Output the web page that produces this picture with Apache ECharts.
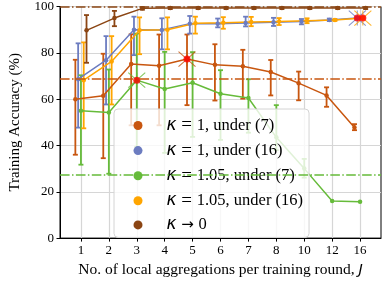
<!DOCTYPE html>
<html><head><meta charset="utf-8">
<script src="https://cdn.jsdelivr.net/npm/echarts@6/dist/echarts.min.js"></script>
<style>html,body{margin:0;padding:0;background:#fff}#c{width:382px;height:283px}</style>
</head><body><div id="c"></div>
<script>
// categories (J values)
const jLabels = ['1','2','3','4','5','6','7','8','10','12','16'];
const yTicks = [0,20,40,60,80,100];

// kappa = 1, under (7)
const k1u7 = [60.0, 61.5, 75.2, 74.4, 77.3, 74.8, 74.2, 71.7, 66.9, 61.6, 47.8];
const k1u7Low = [36.0, 34.5, 48.7, 48.7, 57.4, 59.4, 60.2, 61.6, 59.5, 56.7, 46.6];
const k1u7High = [77.0, 79.6, 88.0, 87.9, 87.9, 83.7, 81.3, 76.9, 71.9, 65.1, 49.2];

// kappa = 1, under (16)
const k1u16 = [68.6, 76.8, 90.0, 89.9, 92.6, 92.6, 92.9, 93.2, 93.5, 94.2, 95.0];
const k1u16Low = [47.7, 57.7, 79.0, 81.5, 88.3, 91.0, 91.4, 91.6, 92.3, 93.7, 94.7];
const k1u16High = [84.1, 87.2, 95.6, 94.9, 95.9, 94.8, 95.6, 95.1, 94.6, 94.8, 95.3];

// kappa = 1.05, under (7)
const k105u7 = [55.0, 54.2, 68.2, 64.4, 67.1, 62.3, 60.5, 43.5, 30.0, 16.0, 15.7];
const k105u7Low = [31.7, 27.8, 39.4, 36.8, 43.7, 42.4, 45.5, 38.0, 26.1, 16.0, 15.7];
const k105u7High = [70.3, 72.8, 88.3, 80.4, 80.3, 72.5, 68.6, 57.4, 34.2, 16.0, 15.7];

// kappa = 1.05, under (16)
const k105u16 = [68.2, 76.3, 89.7, 90.0, 92.8, 93.0, 93.3, 93.5, 93.9, 94.2, 95.0];
const k105u16Low = [47.4, 57.7, 79.4, 81.5, 88.3, 90.4, 91.5, 92.0, 92.8, 93.8, 94.8];
const k105u16High = [84.5, 87.2, 95.3, 95.3, 95.6, 95.4, 95.5, 95.0, 94.9, 94.6, 95.2];

// kappa -> 0
const k0 = [89.7, 95.0, 99.2, 99.3, 99.3, 99.3, 99.3, 99.3, 99.3, 99.3, 99.3];
const k0Low = [75.7, 91.5, 98.6, 98.9, 98.9, 98.9, 98.9, 98.9, 98.9, 98.9, 98.9];
const k0High = [96.3, 98.1, 99.7, 99.7, 99.7, 99.7, 99.7, 99.7, 99.7, 99.7, 99.7];

// reference (dash-dot) levels
const refK1u7 = 69.0;
const refK105u7 = 27.5;
const refK0 = 99.7;

// highlighted points (index into categories)
const hlK1u7 = 4, hlK105u7 = 2, hlK1u16 = 10, hlK105u16 = 10;

const names = ['κ = 1, under (7)','κ = 1, under (16)','κ = 1.05, under (7)','κ = 1.05, under (16)','κ → 0'];
const colors = ['#c8560f','#6c7cc0','#66bb3a','#ffa500','#8b4513'];
const offsets = [-0.2,-0.1,0,0.1,0.2];
const vals = [k1u7,k1u16,k105u7,k105u16,k0];
const lows = [k1u7Low,k1u16Low,k105u7Low,k105u16Low,k0Low];
const highs = [k1u7High,k1u16High,k105u7High,k105u16High,k0High];
const refs = [refK1u7,null,refK105u7,null,refK0];
const ticksX = jLabels.map((_,i)=>i+1);
const dashDot = [9.6,2.4,1.5,2.4];

const series = [];
for (let s=0;s<5;s++){
  const off = offsets[s], color = colors[s];
  series.push({
    type:'custom', name:names[s]+'_err', silent:true, z:3,
    data: lows[s].map((l,i)=>[i+1+off, l, highs[s][i]]).filter(d=>d[2]-d[1]>0.01),
    encode:{x:0,y:[1,2]},
    renderItem(params, api){
      const x=api.value(0), lo=api.value(1), hi=api.value(2);
      const p1=api.coord([x,lo]), p2=api.coord([x,hi]);
      const w=2.5, st={stroke:color,lineWidth:1.8};
      return {type:'group',children:[
        {type:'line',shape:{x1:p1[0],y1:p1[1],x2:p2[0],y2:p2[1]},style:st},
        {type:'line',shape:{x1:p1[0]-w,y1:p1[1],x2:p1[0]+w,y2:p1[1]},style:st},
        {type:'line',shape:{x1:p2[0]-w,y1:p2[1],x2:p2[0]+w,y2:p2[1]},style:st}
      ]};
    }
  });
  const line = {
    type:'line', name:names[s], z:3,
    data: vals[s].map((v,i)=>[i+1+off, v]),
    symbol:'circle', symbolSize:4.5, showSymbol:true,
    lineStyle:{color, width:1.5}, itemStyle:{color},
    emphasis:{disabled:true}, animation:false
  };
  if (refs[s]!==null){
    line.markLine = {silent:true, symbol:'none', label:{show:false},
      lineStyle:{color, width:1.5, type:dashDot},
      data:[{yAxis:refs[s]}]};
  }
  series.push(line);
}

const hl = [[0,hlK1u7],[2,hlK105u7],[1,hlK1u16],[3,hlK105u16]];
hl.forEach(([s,i])=>{
  series.push({type:'scatter', silent:true, z:4, symbol:'path://M0,0L16,14M16,0L0,14M8,0L8,14',
    symbolSize:[17,15], data:[[i+1+offsets[s], vals[s][i]]],
    itemStyle:{color:'none', borderColor:colors[s], borderWidth:1}});
});
series.push({type:'scatter', silent:true, z:5, symbol:'circle', symbolSize:7,
  data: hl.map(([s,i])=>[i+1+offsets[s], vals[s][i]]),
  itemStyle:{color:'#ff0000'}});

const chart = echarts.init(document.getElementById('c'), null, {renderer:'canvas'});
chart.setOption({
  animation:false,
  grid:{left:47, top:6, width:334, height:237, show:true, borderColor:'#000', borderWidth:1, backgroundColor:'transparent'},
  xAxis:{type:'value', min:0.25, max:11.75,
    axisLine:{show:true, onZero:false, lineStyle:{color:'#000', width:1}},
    axisTick:{show:true, customValues:ticksX, length:3.5, lineStyle:{color:'#000'}},
    axisLabel:{customValues:ticksX, formatter:v=>jLabels[Math.round(v)-1], color:'#000', fontFamily:'Liberation Serif', fontSize:13, margin:6},
    splitLine:{show:true, lineStyle:{color:'#d6d6d6', width:1.2}},
    name:'No. of local aggregations per training round, {j|J}', nameLocation:'middle', nameGap:23,
    nameTextStyle:{fontFamily:'Liberation Serif', fontSize:15.5, color:'#000',
      rich:{j:{fontFamily:'DejaVu Sans', fontStyle:'italic', fontSize:14.5, color:'#000'}}}
  },
  yAxis:{type:'value', min:0, max:100, interval:20,
    axisLine:{show:true, lineStyle:{color:'#000', width:1}},
    axisTick:{show:true, length:3.5, lineStyle:{color:'#000'}},
    axisLabel:{color:'#000', fontFamily:'Liberation Serif', fontSize:13, margin:6},
    splitLine:{show:true, lineStyle:{color:'#d6d6d6', width:1.2}},
    name:'Training Accuracy (%)', nameLocation:'middle', nameGap:37,
    nameTextStyle:{fontFamily:'Liberation Serif', fontSize:15, color:'#000'}
  },
  legend:{orient:'vertical', left:114, top:109, padding:[7,6,4,19.5], itemWidth:9, itemHeight:9, itemGap:6.1,
    icon:'circle', selectedMode:false, data:names,
    backgroundColor:'rgba(255,255,255,0.8)', borderColor:'#d4d4d4', borderWidth:1, borderRadius:4,
    formatter: n => '{sp| }' + n.replace('κ','{k|κ}').replace(' = ','{eq| = }').replace(' → ','{ar| → }'),
    textStyle:{fontFamily:'Liberation Serif', fontSize:16.5, lineHeight:17, color:'#000',
      rich:{sp:{width:19, fontSize:16.5, lineHeight:17},
        k:{fontFamily:'DejaVu Sans', fontStyle:'italic', fontSize:17, lineHeight:17, color:'#000'},
        eq:{fontFamily:'Liberation Serif', fontSize:19, lineHeight:17, color:'#000'},
        ar:{fontFamily:'DejaVu Sans', fontSize:15, lineHeight:17, color:'#000'}}}
  },
  series
});
</script></body></html>
